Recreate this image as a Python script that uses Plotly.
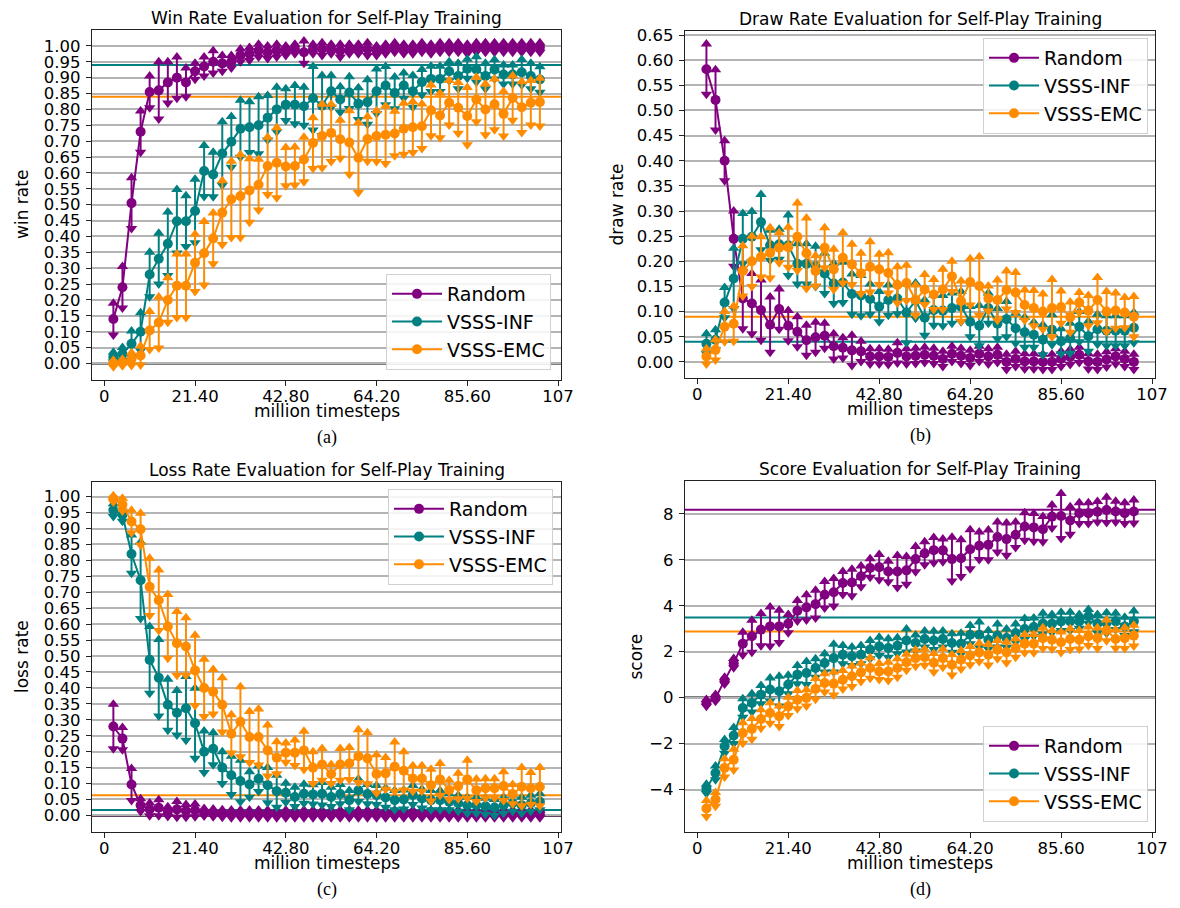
import plotly.graph_objects as go

# ---------------- data ----------------
steps = [2.14, 4.28, 6.42, 8.56, 10.70, 12.84, 14.98, 17.12, 19.26, 21.40,
         23.54, 25.68, 27.82, 29.96, 32.10, 34.24, 36.38, 38.52, 40.66, 42.80,
         44.94, 47.08, 49.22, 51.36, 53.50, 55.64, 57.78, 59.92, 62.06, 64.20,
         66.34, 68.48, 70.62, 72.76, 74.90, 77.04, 79.18, 81.32, 83.46, 85.60,
         87.74, 89.88, 92.02, 94.16, 96.30, 98.44, 100.58, 102.72]

series_names = ["Random", "VSSS-INF", "VSSS-EMC"]
series_colors = ["purple", "teal", "darkorange"]

# Win rate
win_random = [0.14, 0.24, 0.505, 0.73, 0.855, 0.86, 0.885, 0.90, 0.885, 0.92,
              0.935, 0.95, 0.945, 0.95, 0.97, 0.975, 0.985, 0.98, 0.985, 0.985,
              0.99, 0.98, 0.99, 0.99, 0.99, 0.985, 0.99, 0.99, 0.99, 0.985,
              0.99, 0.995, 0.99, 0.99, 0.995, 0.99, 0.995, 0.995, 0.995, 0.99,
              0.995, 0.995, 0.995, 0.995, 0.995, 0.995, 0.995, 0.995]
win_random_err = [0.05, 0.065, 0.08, 0.065, 0.05, 0.09, 0.065, 0.065, 0.045, 0.025,
                  0.03, 0.035, 0.025, 0.02, 0.02, 0.02, 0.02, 0.02, 0.02, 0.015,
                  0.015, 0.035, 0.015, 0.02, 0.015, 0.02, 0.015, 0.015, 0.02, 0.015,
                  0.015, 0.015, 0.015, 0.015, 0.015, 0.015, 0.015, 0.015, 0.015, 0.015,
                  0.015, 0.015, 0.015, 0.015, 0.015, 0.015, 0.015, 0.015]
win_inf = [0.02, 0.03, 0.062, 0.10, 0.28, 0.33, 0.377, 0.448, 0.448, 0.48,
           0.606, 0.595, 0.661, 0.698, 0.739, 0.744, 0.75, 0.774, 0.80, 0.815,
           0.815, 0.81, 0.835, 0.812, 0.857, 0.831, 0.853, 0.818, 0.823, 0.857,
           0.875, 0.852, 0.875, 0.857, 0.886, 0.896, 0.896, 0.92, 0.905, 0.928,
           0.926, 0.905, 0.926, 0.91, 0.91, 0.917, 0.905, 0.894]
win_inf_err = [0.015, 0.02, 0.04, 0.06, 0.07, 0.08, 0.10, 0.10, 0.08, 0.10,
               0.08, 0.07, 0.10, 0.08, 0.09, 0.08, 0.09, 0.07, 0.07, 0.05,
               0.06, 0.06, 0.10, 0.095, 0.05, 0.04, 0.05, 0.05, 0.07, 0.07,
               0.06, 0.05, 0.04, 0.05, 0.04, 0.04, 0.04, 0.03, 0.04, 0.03,
               0.04, 0.04, 0.03, 0.03, 0.03, 0.04, 0.04, 0.04]
win_emc = [0.0, 0.003, 0.014, 0.025, 0.104, 0.129, 0.20, 0.245, 0.245, 0.317,
           0.347, 0.394, 0.475, 0.517, 0.527, 0.545, 0.563, 0.622, 0.632, 0.62,
           0.622, 0.642, 0.694, 0.716, 0.726, 0.706, 0.696, 0.648, 0.707, 0.716,
           0.72, 0.724, 0.739, 0.744, 0.747, 0.797, 0.781, 0.821, 0.805, 0.779,
           0.831, 0.80, 0.816, 0.786, 0.836, 0.807, 0.821, 0.823]
win_emc_err = [0.01, 0.01, 0.02, 0.03, 0.06, 0.08, 0.07, 0.10, 0.10, 0.09,
               0.10, 0.08, 0.10, 0.12, 0.13, 0.10, 0.08, 0.09, 0.11, 0.06,
               0.06, 0.07, 0.08, 0.10, 0.09, 0.06, 0.10, 0.11, 0.07, 0.08,
               0.09, 0.07, 0.08, 0.08, 0.07, 0.08, 0.07, 0.07, 0.08, 0.09,
               0.07, 0.08, 0.08, 0.07, 0.07, 0.08, 0.07, 0.075]

# Draw rate
draw_random = [0.582, 0.521, 0.40, 0.245, 0.126, 0.116, 0.103, 0.074, 0.105, 0.072,
               0.06, 0.043, 0.049, 0.052, 0.031, 0.028, 0.023, 0.021, 0.011, 0.011,
               0.01, 0.018, 0.011, 0.012, 0.014, 0.012, 0.006, 0.016, 0.012, 0.008,
               0.016, 0.011, 0.014, 0.0, 0.006, 0.001, 0.001, 0.0, 0.0, 0.006,
               0.01, 0.014, 0.001, 0.0, 0.005, 0.011, 0.006, 0.0]
draw_random_err = [0.05, 0.06, 0.04, 0.055, 0.06, 0.06, 0.06, 0.055, 0.04, 0.03,
                   0.03, 0.03, 0.03, 0.025, 0.025, 0.02, 0.03, 0.02, 0.015, 0.015,
                   0.015, 0.02, 0.015, 0.015, 0.015, 0.015, 0.015, 0.015, 0.015, 0.015,
                   0.015, 0.015, 0.015, 0.015, 0.015, 0.015, 0.015, 0.015, 0.015, 0.015,
                   0.015, 0.015, 0.015, 0.015, 0.015, 0.015, 0.015, 0.015]
draw_inf = [0.036, 0.044, 0.118, 0.166, 0.245, 0.249, 0.278, 0.232, 0.234, 0.232,
            0.195, 0.195, 0.19, 0.176, 0.156, 0.158, 0.135, 0.132, 0.125, 0.11,
            0.123, 0.126, 0.098, 0.122, 0.088, 0.103, 0.102, 0.107, 0.11, 0.08,
            0.072, 0.107, 0.076, 0.085, 0.067, 0.059, 0.054, 0.044, 0.064, 0.041,
            0.047, 0.07, 0.051, 0.065, 0.062, 0.062, 0.062, 0.068]
draw_inf_err = [0.02, 0.02, 0.03, 0.06, 0.05, 0.05, 0.055, 0.03, 0.03, 0.06,
                0.04, 0.04, 0.04, 0.04, 0.04, 0.04, 0.04, 0.04, 0.03, 0.03,
                0.03, 0.03, 0.06, 0.035, 0.035, 0.03, 0.03, 0.03, 0.03, 0.03,
                0.04, 0.03, 0.03, 0.035, 0.03, 0.03, 0.025, 0.03, 0.03, 0.025,
                0.03, 0.03, 0.03, 0.03, 0.03, 0.03, 0.03, 0.03]
draw_emc = [0.011, 0.024, 0.07, 0.076, 0.181, 0.20, 0.209, 0.217, 0.227, 0.228,
            0.249, 0.216, 0.181, 0.227, 0.184, 0.207, 0.194, 0.176, 0.189, 0.184,
            0.177, 0.153, 0.157, 0.123, 0.144, 0.134, 0.144, 0.17, 0.121, 0.159,
            0.151, 0.126, 0.123, 0.143, 0.138, 0.113, 0.107, 0.10, 0.107, 0.109,
            0.089, 0.118, 0.102, 0.123, 0.10, 0.102, 0.098, 0.09]
draw_emc_err = [0.015, 0.02, 0.03, 0.035, 0.05, 0.05, 0.04, 0.05, 0.03, 0.04,
                0.067, 0.07, 0.03, 0.04, 0.04, 0.05, 0.04, 0.04, 0.05, 0.03,
                0.04, 0.036, 0.035, 0.03, 0.03, 0.03, 0.04, 0.03, 0.04, 0.046,
                0.058, 0.025, 0.04, 0.038, 0.04, 0.03, 0.035, 0.035, 0.057, 0.032,
                0.03, 0.02, 0.03, 0.045, 0.04, 0.035, 0.03, 0.04]

# Loss rate
loss_random = [0.279, 0.241, 0.097, 0.032, 0.019, 0.024, 0.012, 0.019, 0.014, 0.016,
               0.01, 0.008, 0.006, 0.005, 0.005, 0.005, 0.005, 0.005, 0.005, 0.005,
               0.005, 0.005, 0.005, 0.005, 0.005, 0.005, 0.005, 0.005, 0.005, 0.005,
               0.005, 0.005, 0.005, 0.005, 0.005, 0.005, 0.005, 0.005, 0.005, 0.005,
               0.005, 0.005, 0.005, 0.005, 0.005, 0.005, 0.005, 0.005]
loss_random_err = [0.07, 0.035, 0.05, 0.02, 0.02, 0.025, 0.015, 0.025, 0.02, 0.02,
                   0.012, 0.012, 0.012, 0.012, 0.012, 0.012, 0.012, 0.012, 0.012, 0.012,
                   0.012, 0.012, 0.012, 0.012, 0.012, 0.012, 0.012, 0.012, 0.012, 0.012,
                   0.012, 0.012, 0.012, 0.012, 0.012, 0.012, 0.012, 0.012, 0.012, 0.012,
                   0.012, 0.012, 0.012, 0.012, 0.012, 0.012, 0.012, 0.012]
loss_inf = [0.958, 0.943, 0.82, 0.738, 0.488, 0.432, 0.347, 0.322, 0.336, 0.289,
            0.20, 0.209, 0.15, 0.126, 0.108, 0.097, 0.115, 0.095, 0.076, 0.071,
            0.058, 0.068, 0.066, 0.068, 0.058, 0.067, 0.048, 0.079, 0.067, 0.064,
            0.056, 0.048, 0.05, 0.064, 0.053, 0.048, 0.048, 0.043, 0.038, 0.032,
            0.032, 0.029, 0.025, 0.032, 0.038, 0.032, 0.038, 0.043]
loss_inf_err = [0.02, 0.02, 0.06, 0.12, 0.105, 0.12, 0.08, 0.07, 0.10, 0.11,
                0.065, 0.05, 0.05, 0.06, 0.065, 0.04, 0.04, 0.055, 0.05, 0.03,
                0.03, 0.03, 0.03, 0.035, 0.03, 0.03, 0.03, 0.035, 0.03, 0.03,
                0.03, 0.03, 0.03, 0.03, 0.03, 0.03, 0.03, 0.025, 0.025, 0.025,
                0.025, 0.025, 0.025, 0.025, 0.025, 0.025, 0.025, 0.025]
loss_emc = [0.993, 0.975, 0.922, 0.898, 0.717, 0.675, 0.593, 0.54, 0.53, 0.455,
            0.40, 0.388, 0.347, 0.256, 0.294, 0.246, 0.246, 0.204, 0.181, 0.197,
            0.197, 0.204, 0.15, 0.16, 0.13, 0.16, 0.163, 0.186, 0.179, 0.13,
            0.132, 0.153, 0.14, 0.116, 0.116, 0.095, 0.113, 0.08, 0.092, 0.113,
            0.079, 0.085, 0.085, 0.092, 0.067, 0.09, 0.085, 0.09]
loss_emc_err = [0.01, 0.02, 0.035, 0.05, 0.09, 0.095, 0.10, 0.10, 0.09, 0.11,
                0.09, 0.07, 0.085, 0.06, 0.11, 0.08, 0.088, 0.08, 0.05, 0.03,
                0.04, 0.06, 0.05, 0.05, 0.03, 0.05, 0.05, 0.083, 0.08, 0.06,
                0.05, 0.077, 0.06, 0.04, 0.04, 0.05, 0.05, 0.03, 0.04, 0.06,
                0.035, 0.03, 0.03, 0.045, 0.03, 0.06, 0.05, 0.06]

# Score
score_random = [-0.23, -0.01, 0.74, 1.5, 2.35, 2.67, 2.96, 3.1, 3.1, 3.22,
                3.78, 3.93, 4.07, 4.48, 4.59, 4.99, 5.01, 5.28, 5.64, 5.68,
                5.49, 5.49, 5.54, 6.03, 6.28, 6.42, 6.41, 6.03, 6.07, 6.46,
                6.61, 6.65, 6.99, 6.9, 7.09, 7.45, 7.41, 7.33, 7.88, 7.91,
                7.71, 8.03, 8.03, 8.09, 8.17, 8.1, 8.03, 8.1]
score_random_err = [0.15, 0.15, 0.15, 0.2, 0.5, 0.7, 0.7, 0.85, 0.7, 0.4,
                    0.45, 0.55, 0.6, 0.58, 0.6, 0.5, 0.58, 0.45, 0.4, 0.55,
                    0.45, 0.7, 0.6, 0.55, 0.5, 0.55, 0.5, 0.95, 0.8, 0.85,
                    0.6, 0.65, 0.65, 0.7, 0.55, 0.6, 0.6, 0.55, 0.5, 0.98,
                    0.6, 0.45, 0.45, 0.45, 0.55, 0.45, 0.45, 0.5]
score_inf = [-3.97, -3.28, -2.12, -1.65, -0.45, -0.23, 0.13, 0.35, 0.28, 0.57,
             1.0, 1.07, 1.29, 1.51, 1.72, 1.87, 1.8, 1.87, 2.09, 2.23,
             2.16, 2.26, 2.49, 2.38, 2.55, 2.49, 2.55, 2.38, 2.35, 2.74,
             2.74, 2.52, 2.7, 2.59, 2.81, 2.99, 3.07, 3.22, 3.22, 3.32,
             3.32, 3.32, 3.54, 3.22, 3.25, 3.32, 3.1, 3.32]
score_inf_err = [0.2, 0.3, 0.3, 0.35, 0.4, 0.4, 0.4, 0.5, 0.65, 0.4,
                 0.4, 0.5, 0.4, 0.4, 0.6, 0.4, 0.4, 0.4, 0.4, 0.4,
                 0.4, 0.35, 0.5, 0.35, 0.35, 0.4, 0.35, 0.4, 0.45, 0.4,
                 0.55, 0.4, 0.5, 0.4, 0.4, 0.45, 0.4, 0.45, 0.4, 0.4,
                 0.4, 0.3, 0.3, 0.4, 0.45, 0.35, 0.4, 0.45]
score_emc = [-4.83, -4.43, -3.06, -2.7, -1.54, -1.36, -0.93, -0.67, -0.81, -0.38,
             -0.09, -0.01, 0.38, 0.64, 0.61, 0.78, 0.93, 1.1, 1.29, 1.14,
             1.14, 1.29, 1.54, 1.72, 1.76, 1.52, 1.72, 1.43, 1.65, 1.83,
             1.97, 1.87, 2.09, 1.97, 2.16, 2.35, 2.35, 2.59, 2.52, 2.41,
             2.55, 2.52, 2.67, 2.59, 2.93, 2.55, 2.59, 2.7]
score_emc_err = [0.35, 0.3, 0.4, 0.45, 0.45, 0.45, 0.4, 0.45, 0.45, 0.4,
                 0.4, 0.35, 0.45, 0.4, 0.5, 0.4, 0.45, 0.4, 0.45, 0.35,
                 0.4, 0.4, 0.35, 0.35, 0.35, 0.4, 0.4, 0.45, 0.4, 0.4,
                 0.4, 0.45, 0.4, 0.45, 0.4, 0.4, 0.4, 0.45, 0.4, 0.45,
                 0.45, 0.4, 0.4, 0.45, 0.45, 0.4, 0.45, 0.45]

# Reference (baseline) levels per metric, in series order
win_baselines = [1.0, 0.94, 0.84]
draw_baselines = [0.0, 0.04, 0.09]
loss_baselines = [0.0, 0.017, 0.063]
score_baselines = [8.18, 3.49, 2.88]

panel_titles = ["Win Rate Evaluation for Self-Play Training",
                "Draw Rate Evaluation for Self-Play Training",
                "Loss Rate Evaluation for Self-Play Training",
                "Score Evaluation for Self-Play Training"]
y_labels = ["win rate", "draw rate", "loss rate", "score"]
captions = ["(a)", "(b)", "(c)", "(d)"]
x_label = "million timesteps"
x_tickvals = [0, 21.40, 42.80, 64.20, 85.60, 107]
x_ticktext = ["0", "21.40", "42.80", "64.20", "85.60", "107"]

# ---------------- figure ----------------
# The page body has an 8px default margin, so the figure is 8px smaller
# and every target pixel position is shifted by that offset.
OFF = 8
W, H = 1180 - OFF, 908 - OFF
FONT = "DejaVu Sans"
FS_TICK = 16.5
FS_LABEL = 17

def px_x(p):
    return (p - OFF) / W

def px_y(p):
    return 1 - (p - OFF) / H

# panel pixel boxes in the target picture: (left, right, top, bottom)
boxes = [(92, 561, 30, 380), (685, 1155, 31, 378),
         (92, 561, 482, 832), (685, 1155, 481, 832)]

panels = [
    dict(values=[win_random, win_inf, win_emc], errs=[win_random_err, win_inf_err, win_emc_err],
         base=win_baselines, yrange=[-0.052, 1.05],
         ytickvals=[i * 0.05 for i in range(21)], fmt=".2f"),
    dict(values=[draw_random, draw_inf, draw_emc], errs=[draw_random_err, draw_inf_err, draw_emc_err],
         base=draw_baselines, yrange=[-0.032, 0.658],
         ytickvals=[i * 0.05 for i in range(14)], fmt=".2f"),
    dict(values=[loss_random, loss_inf, loss_emc], errs=[loss_random_err, loss_inf_err, loss_emc_err],
         base=loss_baselines, yrange=[-0.052, 1.046],
         ytickvals=[i * 0.05 for i in range(21)], fmt=".2f"),
    dict(values=[score_random, score_inf, score_emc], errs=[score_random_err, score_inf_err, score_emc_err],
         base=score_baselines, yrange=[-5.85, 9.43],
         ytickvals=[-4, -2, 0, 2, 4, 6, 8], fmt="d"),
]

legend_pos = [
    dict(x=px_x(551), y=px_y(370), xanchor="right", yanchor="bottom"),
    dict(x=px_x(1148), y=px_y(38), xanchor="right", yanchor="top"),
    dict(x=px_x(553), y=px_y(489), xanchor="right", yanchor="top"),
    dict(x=px_x(1148), y=px_y(822), xanchor="right", yanchor="bottom"),
]

fig = go.Figure()
layout = dict(width=W, height=H, margin=dict(l=0, r=0, t=0, b=0, autoexpand=False),
              paper_bgcolor="white", plot_bgcolor="white",
              font=dict(family=FONT, size=FS_LABEL, color="black"),
              showlegend=True)
shapes = []
annotations = []

for i, (panel, box) in enumerate(zip(panels, boxes)):
    n = "" if i == 0 else str(i + 1)
    xref, yref = "x" + n, "y" + n
    legname = "legend" + n
    left, right, top, bottom = box
    layout["xaxis" + n] = dict(
        domain=[px_x(left), px_x(right)], anchor=yref, range=[-2.9, 107.7],
        tickvals=x_tickvals, ticktext=x_ticktext, showgrid=False, zeroline=False,
        showline=True, mirror=True, linecolor="#222", linewidth=1.2,
        ticks="outside", ticklen=5, tickwidth=1.2, tickcolor="#222",
        ticklabelstandoff=-4,
        automargin=False, tickfont=dict(size=FS_TICK, family=FONT))
    layout["yaxis" + n] = dict(
        domain=[px_y(bottom), px_y(top)], anchor=xref, range=panel["yrange"],
        tickvals=panel["ytickvals"], tickformat=panel["fmt"],
        showgrid=True, gridcolor="#b4b4b4", gridwidth=1.6, zeroline=False,
        showline=True, mirror=True, linecolor="#222", linewidth=1.2,
        ticks="outside", ticklen=5, tickwidth=1.2, tickcolor="#222",
        ticklabelstandoff=2,
        automargin=False, tickfont=dict(size=FS_TICK, family=FONT))
    layout[legname] = dict(
        **legend_pos[i], bgcolor="rgba(255,255,255,0.85)", bordercolor="#d0d0d0",
        borderwidth=1, font=dict(size=19, family=FONT), itemwidth=50)

    # baselines and zero line
    for base, col in zip(panel["base"], series_colors):
        shapes.append(dict(type="line", xref=xref + " domain", yref=yref,
                           x0=0, x1=1, y0=base, y1=base,
                           line=dict(color=col, width=2), layer="below"))
    shapes.append(dict(type="line", xref=xref + " domain", yref=yref,
                       x0=0, x1=1, y0=0, y1=0,
                       line=dict(color="black", width=2), layer="below"))

    for name, col, vals, errs in zip(series_names, series_colors, panel["values"], panel["errs"]):
        up = [v + e for v, e in zip(vals, errs)]
        dn = [v - e for v, e in zip(vals, errs)]
        fig.add_trace(go.Scatter(
            x=steps + steps, y=up + dn, mode="markers", showlegend=False,
            marker=dict(color=col, size=10,
                        symbol=["triangle-up"] * len(up) + ["triangle-down"] * len(dn)),
            xaxis=xref, yaxis=yref, hoverinfo="skip"))
        fig.add_trace(go.Scatter(
            x=steps, y=vals, mode="lines+markers", name=name,
            line=dict(color=col, width=2), marker=dict(color=col, size=10),
            error_y=dict(type="data", array=errs, visible=True, color=col,
                         thickness=2, width=0),
            xaxis=xref, yaxis=yref, legend=legname))

    cx = px_x((left + right) / 2)
    annotations += [
        dict(text=panel_titles[i], x=cx, y=px_y(top - 12), xref="paper", yref="paper",
             xanchor="center", yanchor="middle", showarrow=False,
             font=dict(size=FS_LABEL, family=FONT)),
        dict(text=x_label, x=cx, y=px_y(bottom + 31), xref="paper", yref="paper",
             xanchor="center", yanchor="middle", showarrow=False,
             font=dict(size=FS_LABEL, family=FONT)),
        dict(text=captions[i], x=cx, y=px_y(bottom + 57), xref="paper", yref="paper",
             xanchor="center", yanchor="middle", showarrow=False,
             font=dict(size=18, family="Liberation Serif")),
    ]

# y-axis labels
ylab_x = [22, 617, 22, 635]
for i, box in enumerate(boxes):
    left, right, top, bottom = box
    annotations.append(dict(
        text=y_labels[i], x=px_x(ylab_x[i]), y=px_y((top + bottom) / 2),
        xref="paper", yref="paper", xanchor="center", yanchor="middle",
        textangle=-90, showarrow=False, font=dict(size=FS_LABEL, family=FONT)))

layout["shapes"] = shapes
layout["annotations"] = annotations
fig.update_layout(**layout)
fig.write_html("out.html")
